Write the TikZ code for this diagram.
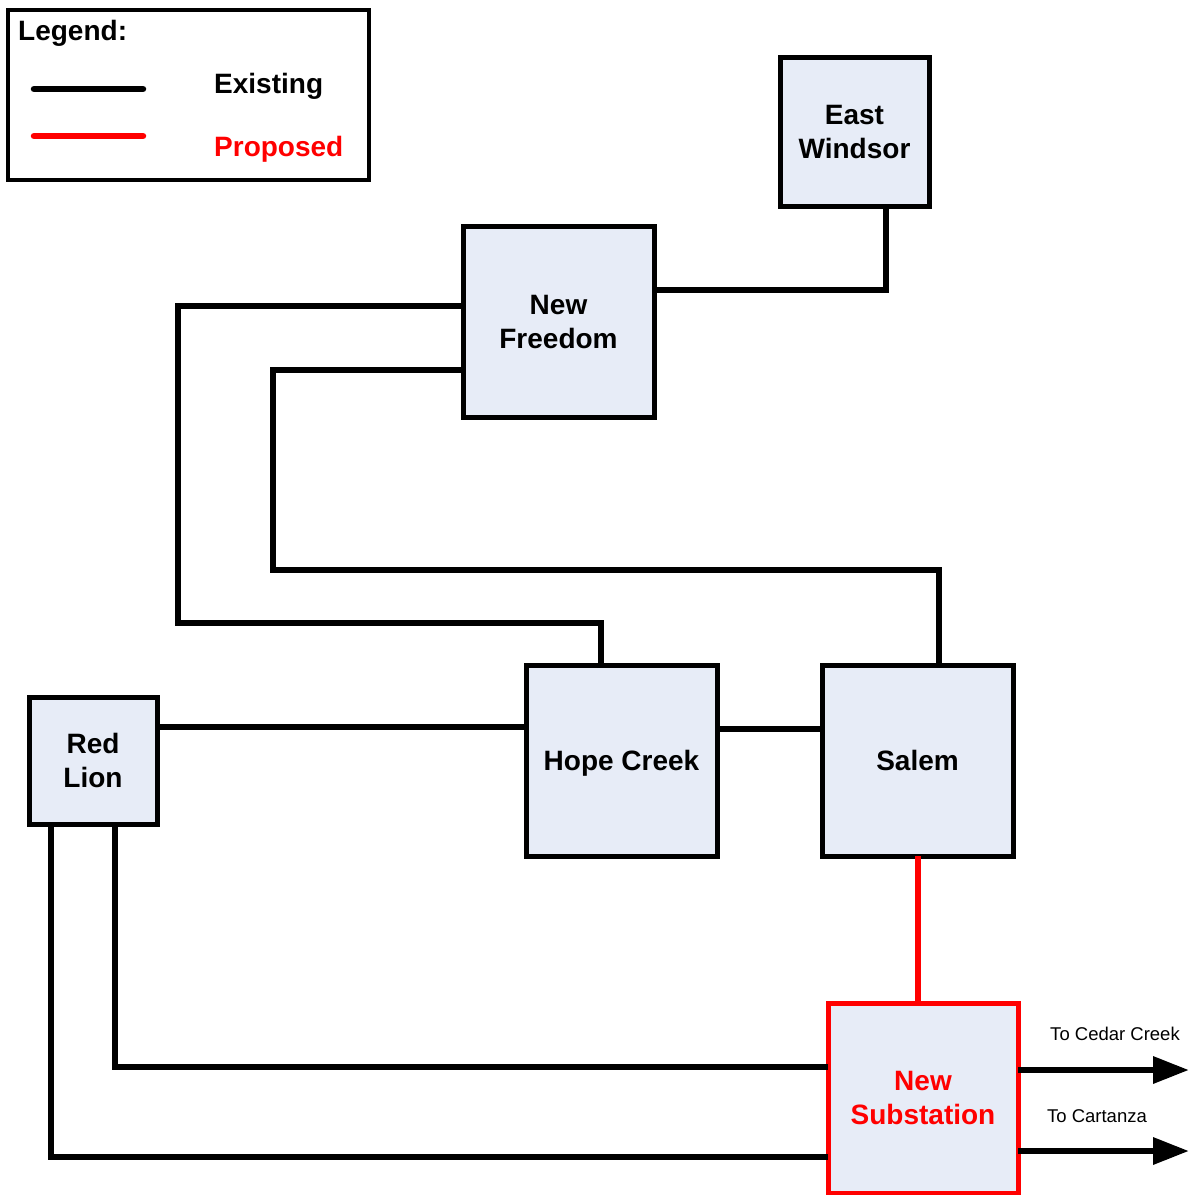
\documentclass[tikz,border=0pt]{standalone}
\usepackage{fontspec}
\setmainfont{Liberation Sans}
\usetikzlibrary{calc,arrows.meta}
\definecolor{boxfill}{RGB}{231,236,247}
\begin{document}
\begin{tikzpicture}[x=1pt,y=-1pt,
  stn/.style={draw=black,fill=boxfill,line width=5pt,rectangle,inner sep=0pt,outer sep=0pt,
    align=center,font=\fontsize{28}{34}\selectfont\bfseries},
  wire/.style={line width=6.5pt,black},
  propwire/.style={line width=6.5pt,red},
  lbl/.style={font=\fontsize{18.5}{22}\selectfont,inner sep=0pt},
  leg/.style={font=\fontsize{28}{34}\selectfont\bfseries,inner sep=0pt,anchor=west}]
\useasboundingbox (0,0) rectangle (1189,1195);
% legend
\node[draw=black,line width=4.5pt,minimum width=361pt,minimum height=170pt,inner sep=0pt,outer sep=0pt] (legbox) at (188.5,95) {};
\node[leg] (legt) at (18,33) {Legend:};
\node[leg] (lege) at (214,86) {Existing};
\node[leg,text=red] (legp) at (214,149) {Proposed};
\coordinate (l1a) at (34,89); \coordinate (l1b) at (143,89);
\coordinate (l2a) at (34,136); \coordinate (l2b) at (143,136);
\draw[wire,line cap=round] (l1a) -- (l1b);
\draw[propwire,line cap=round] (l2a) -- (l2b);
% stations
\node[stn,minimum width=149pt,minimum height=149pt] (ew) at (854.5,131.5) {East\\Windsor};
\node[stn,minimum width=191pt,minimum height=191pt] (nf) at (558.5,321.5) {New\\Freedom};
\node[stn,minimum width=191pt,minimum height=191pt,text depth=0pt] (hc) at (621.5,760.5) {Hope Creek};
\node[stn,minimum width=191pt,minimum height=191pt] (sa) at (917.5,760.5) {Salem};
\node[stn,minimum width=128pt,minimum height=127pt] (rl) at (93,760.5) {Red\\Lion};
\node[stn,draw=red,text=red,minimum width=190pt,minimum height=190pt] (ns) at (923,1098) {New\\Substation};
% connectors
\draw[wire] ($(nf.north east)+(0,64)$) -| ($(ew.south east)+(-43,0)$);
\draw[wire] ($(nf.north west)+(0,80)$) -- ++(-285,0) |- ($(hc.north west)+(75,-42)$) -- ($(hc.north west)+(75,0)$);
\draw[wire] ($(nf.north west)+(0,144)$) -- ++(-190,0) |- ($(sa.north west)+(117,-95)$) -- ($(sa.north west)+(117,0)$);
\draw[wire] ($(rl.north east)+(0,30)$) -- ($(hc.north west)+(0,62)$);
\draw[wire] ($(hc.north east)+(0,64)$) -- ($(sa.north west)+(0,64)$);
\draw[propwire] ($(sa.south west)+(96,0)$) -- ($(ns.north west)+(90,0)$);
\draw[wire] ($(rl.south west)+(86,0)$) |- ($(ns.north west)+(0,64)$);
\draw[wire] ($(rl.south west)+(22,0)$) |- ($(ns.north west)+(0,154)$);
% outgoing
\coordinate (cc) at (1189,1070);
\coordinate (ca) at (1189,1151);
\draw[wire,-{Triangle[length=36pt,width=26pt]}] ($(ns.north east)+(0,67)$) -- (cc);
\draw[wire,-{Triangle[length=36pt,width=26pt]}] ($(ns.north east)+(0,148)$) -- (ca);
\node[lbl] (tcc) at (1115,1034) {To Cedar Creek};
\node[lbl] (tca) at (1097,1116) {To Cartanza};
\end{tikzpicture}
\end{document}
